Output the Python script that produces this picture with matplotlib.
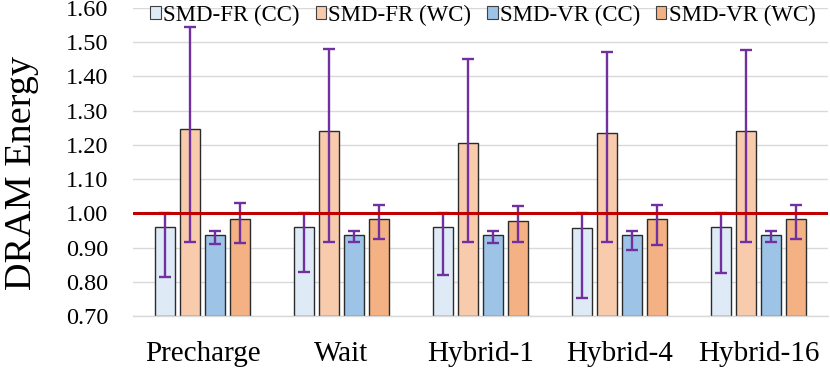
import matplotlib.pyplot as plt
from matplotlib.patches import Patch
import numpy as np

# categories and series
schemes = ['Precharge', 'Wait', 'Hybrid-1', 'Hybrid-4', 'Hybrid-16']
series = ['SMD-FR (CC)', 'SMD-FR (WC)', 'SMD-VR (CC)', 'SMD-VR (WC)']

# mean energy per scheme, one list per series
fr_cc = [0.960, 0.961, 0.960, 0.956, 0.960]
fr_wc = [1.246, 1.241, 1.205, 1.235, 1.241]
vr_cc = [0.937, 0.938, 0.937, 0.936, 0.938]
vr_wc = [0.982, 0.983, 0.978, 0.982, 0.984]

# error bar ends (low / high)
fr_cc_lo = [0.815, 0.828, 0.820, 0.753, 0.827]
fr_cc_hi = [1.000, 1.000, 1.000, 1.000, 1.000]
fr_wc_lo = [0.917, 0.917, 0.917, 0.917, 0.917]
fr_wc_hi = [1.545, 1.480, 1.451, 1.471, 1.478]
vr_cc_lo = [0.910, 0.917, 0.912, 0.894, 0.917]
vr_cc_hi = [0.949, 0.949, 0.949, 0.949, 0.949]
vr_wc_lo = [0.912, 0.925, 0.915, 0.907, 0.926]
vr_wc_hi = [1.029, 1.024, 1.021, 1.024, 1.025]

means = [fr_cc, fr_wc, vr_cc, vr_wc]
lows = [fr_cc_lo, fr_wc_lo, vr_cc_lo, vr_wc_lo]
highs = [fr_cc_hi, fr_wc_hi, vr_cc_hi, vr_wc_hi]
colors = ['#DEEBF7', '#F8CBAD', '#9DC3E6', '#F4B183']

plt.rcParams['font.family'] = ['Liberation Serif', 'DejaVu Serif']

fig = plt.figure(figsize=(8.3, 3.68), dpi=100)
ax = fig.add_axes([133/830, 1 - 316/368, 695/830, 308/368])

x = np.arange(len(schemes))
pitch = 0.1815
width = 0.1435
for i in range(4):
    pos = x + (i - 1.5) * pitch
    m = np.array(means[i])
    err = [m - np.array(lows[i]), np.array(highs[i]) - m]
    ax.bar(pos, m - 0.70, width, bottom=0.70, color=colors[i],
           edgecolor='#2b2b2b', linewidth=1.0, zorder=2)
    ax.errorbar(pos, m, yerr=err, fmt='none', ecolor='#7030A0',
                elinewidth=1.7, capsize=4, capthick=1.7, zorder=3)

# baseline
ax.axhline(1.0, color='#C00000', lw=2.2, zorder=4)

ax.set_xlim(-0.5, 4.5)
ax.set_ylim(0.70, 1.60)
ax.set_yticks(np.arange(0.70, 1.601, 0.10))
ax.set_yticklabels(['%.2f' % v for v in np.arange(0.70, 1.601, 0.10)], fontsize=17.5)
ax.set_xticks(x)
ax.set_xticklabels(schemes, fontsize=21)
ax.tick_params(axis='y', length=0, pad=18)
ax.tick_params(axis='x', length=0, pad=18)
ax.yaxis.grid(True, color='#D9D9D9', lw=1.0, zorder=0)
ax.set_axisbelow(True)
for s in ['top', 'right', 'left']:
    ax.spines[s].set_visible(False)
ax.spines['bottom'].set_color('#D9D9D9')
ax.spines['bottom'].set_linewidth(1.0)

fig.text(22/830, 1 - 173/368, 'DRAM Energy', rotation=90, fontsize=27.5,
         ha='center', va='center')

handles = [Patch(facecolor=c, edgecolor='#404040', lw=0.8) for c in colors]
fig.legend(handles, series, loc='center', bbox_to_anchor=(483/830, 1 - 15/368),
           ncol=4, frameon=False, fontsize=16.5, handlelength=0.45,
           handleheight=0.45, handletextpad=0.1, columnspacing=0.7,
           borderpad=0, borderaxespad=0)

fig.savefig('out.png', dpi=100)
